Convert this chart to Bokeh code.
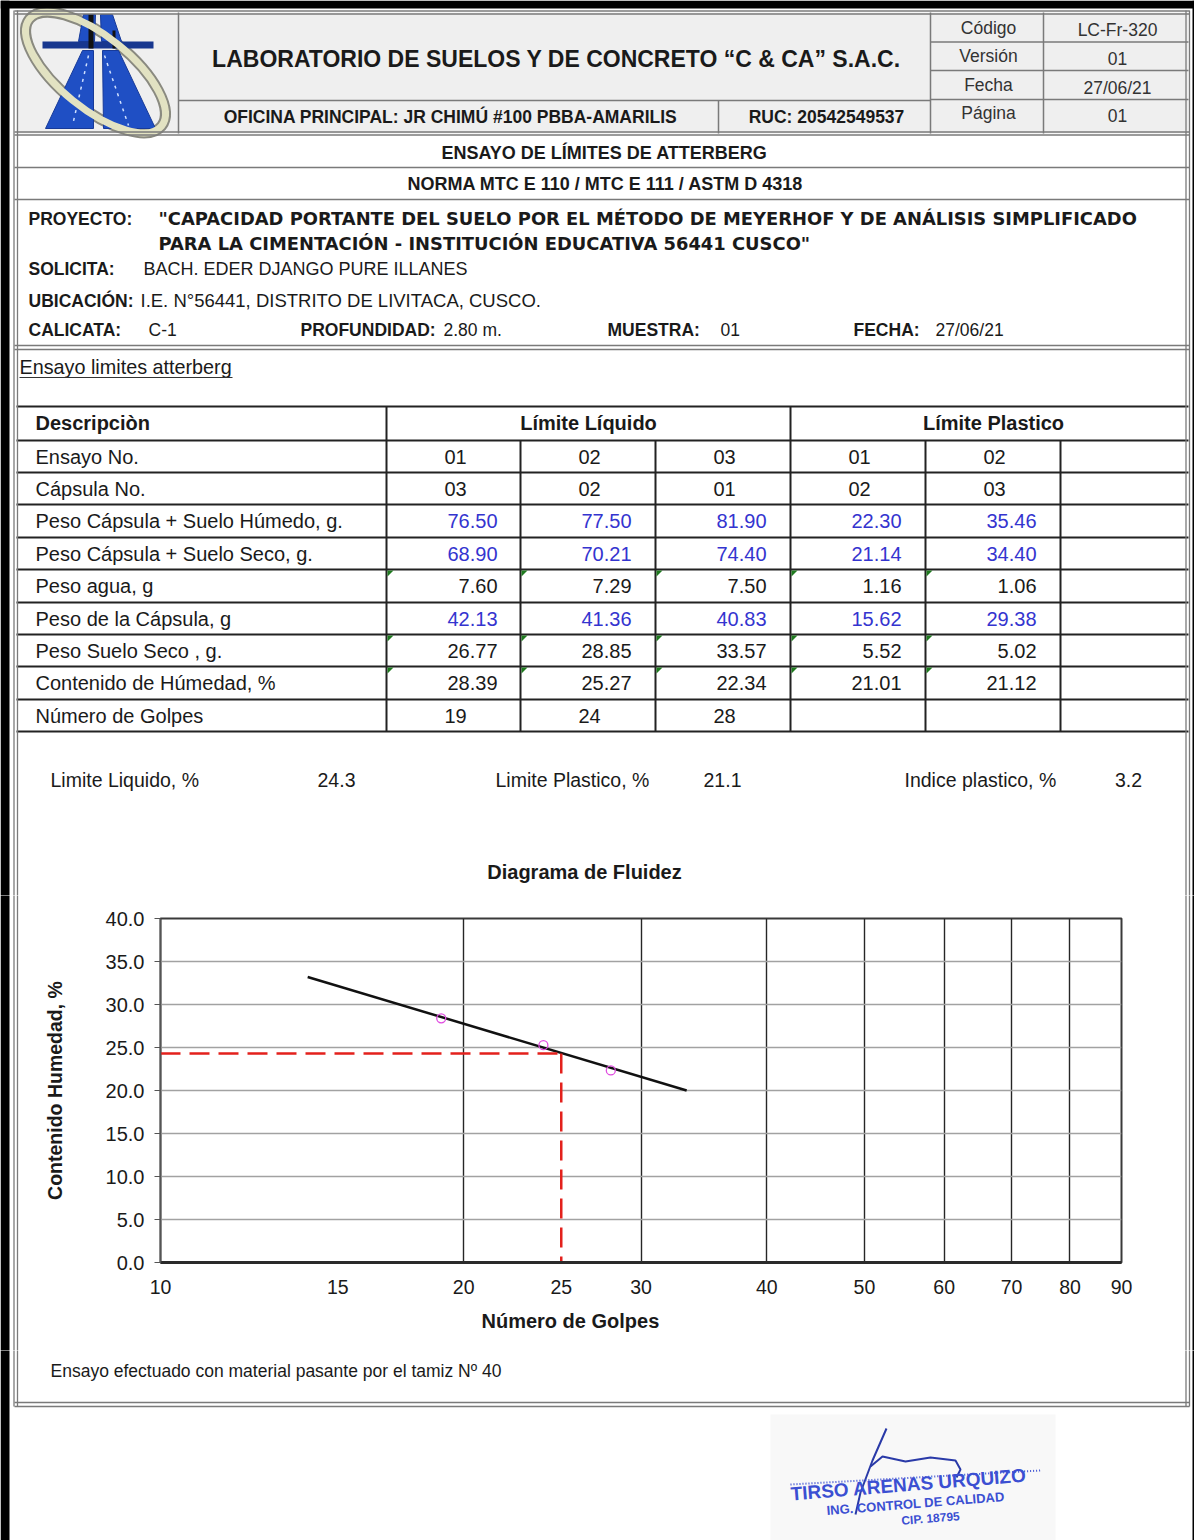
from bokeh.plotting import figure
from bokeh.layouts import column, row
from bokeh.models import Range1d, FixedTicker, PrintfTickFormatter, Title
from bokeh.core.properties import value
from bokeh.embed import file_html
from bokeh.resources import INLINE

# ---------------------------------------------------------------- data
row_labels = [
    "Ensayo No.",
    "Cápsula No.",
    "Peso Cápsula + Suelo Húmedo, g.",
    "Peso Cápsula + Suelo Seco, g.",
    "Peso agua, g",
    "Peso de la Cápsula, g",
    "Peso Suelo Seco , g.",
    "Contenido de Húmedad, %",
    "Número de Golpes",
]
ensayo_no = ["01", "02", "03", "01", "02"]
capsula_no = ["03", "02", "01", "02", "03"]
peso_capsula_humedo = [76.50, 77.50, 81.90, 22.30, 35.46]
peso_capsula_seco = [68.90, 70.21, 74.40, 21.14, 34.40]
peso_agua = [7.60, 7.29, 7.50, 1.16, 1.06]
peso_capsula = [42.13, 41.36, 40.83, 15.62, 29.38]
peso_suelo_seco = [26.77, 28.85, 33.57, 5.52, 5.02]
contenido_humedad = [28.39, 25.27, 22.34, 21.01, 21.12]
numero_golpes = [19, 24, 28]

limite_liquido = 24.3
limite_plastico = 21.1
indice_plastico = 3.2
golpes_estandar = 25

# straight fit line drawn on the flow diagram (end points)
recta_golpes = [14.0, 33.3]
recta_humedad = [33.2, 20.0]

x_ticks = [10, 15, 20, 25, 30, 40, 50, 60, 70, 80, 90]
x_grid = [20, 30, 40, 50, 60, 70, 80]
y_ticks = [0, 5, 10, 15, 20, 25, 30, 35, 40]

# ---------------------------------------------------------------- page geometry
PAGE_W, PAGE_H = 1194, 1540
TOP_H, CHART_H = 895, 455
BOT_H = PAGE_H - TOP_H - CHART_H
SIDE_W = 20
FONT = "Liberation Sans"
INK = "#1a1a1a"
BLUE = "#3434cf"
RULE = "#7a7a7a"
GRIDC = "#262626"


def canvas(x0, y0, w, h):
    p = figure(width=w, height=h, x_range=Range1d(x0, x0 + w), y_range=Range1d(y0 + h, y0),
               x_axis_location=None, y_axis_location=None, toolbar_location=None,
               output_backend="svg", min_border=0, outline_line_color=None,
               background_fill_color="white", border_fill_color="white",
               frame_align=False)
    p.grid.visible = False
    return p


def txt(p, x, y, s, size, bold=False, color=INK, align="left", font=FONT, angle=0.0):
    p.text(x=[x], y=[y], text=[s], text_font=value(font), text_font_size=f"{size}px",
           text_font_style="bold" if bold else "normal", text_color=color,
           text_align=align, text_baseline="middle", angle=angle)


def hline(p, x0, x1, y, color=RULE, width=1.5):
    p.segment(x0=[x0], y0=[y], x1=[x1], y1=[y], line_color=color, line_width=width)


def vline(p, x, y0, y1, color=RULE, width=1.5):
    p.segment(x0=[x], y0=[y0], x1=[x], y1=[y1], line_color=color, line_width=width)


def page_frame(p):
    # dark scan edges and the double side rules of the form
    p.quad(left=[0], right=[9], top=[0], bottom=[PAGE_H], fill_color="black", line_color=None)
    p.quad(left=[0], right=[PAGE_W], top=[0], bottom=[8], fill_color="black", line_color=None)
    p.quad(left=[1192], right=[PAGE_W], top=[0], bottom=[PAGE_H], fill_color="black", line_color=None)
    for x in (13.5, 17.0, 1185.5, 1189.0):
        vline(p, x, 10, 1406, width=1.3)


# ---------------------------------------------------------------- top sheet
top = canvas(0, 0, PAGE_W, TOP_H)

# header background and logo
top.quad(left=[16], right=[1188], top=[12], bottom=[133], fill_color="#efefef", line_color=None)
top.ellipse(x=[95], y=[72], width=[170], height=[72], angle=[-0.68], fill_color=None,
            line_color="#8a8a80", line_width=11)
road = dict(fill_color="#1f4fc4", line_color="#173a99", line_width=1)
top.patch(x=[82, 93, 93, 45], y=[50, 50, 128, 128], **road)
top.patch(x=[102, 118, 155, 103], y=[50, 50, 128, 128], **road)
top.patch(x=[83, 95, 94, 78], y=[14, 14, 41, 41], **road)
top.patch(x=[100, 112, 121, 101], y=[14, 14, 41, 41], **road)
top.quad(left=[42], right=[153], top=[41], bottom=[48], fill_color="#17378f", line_color=None)
top.quad(left=[88], right=[93], top=[14], bottom=[48], fill_color="#111", line_color=None)
top.quad(left=[112], right=[115], top=[30], bottom=[48], fill_color="#111", line_color=None)
top.segment(x0=[88, 104], y0=[55, 55], x1=[72, 128], y1=[125, 125], line_color="#cfe0ff",
            line_width=1.5, line_dash="3 5")
top.ellipse(x=[95], y=[72], width=[170], height=[72], angle=[-0.68], fill_color=None,
            line_color="#e2e2c2", line_width=7)

# header grid
for x, y0, y1 in [(178, 12, 133), (930, 12, 133), (1043, 12, 133), (718, 100, 133)]:
    vline(top, x, y0, y1)
for x0, x1, y in [(14, 1189, 10.5), (14, 1189, 13.5), (178, 930, 100), (930, 1188, 41.5),
                  (930, 1188, 70), (930, 1188, 99), (14, 1189, 131.5), (14, 1189, 134.5),
                  (14, 1189, 167), (14, 1189, 199), (14, 1189, 345), (14, 1189, 349)]:
    hline(top, x0, x1, y)

txt(top, 556, 58, "LABORATORIO DE SUELOS Y DE CONCRETO “C & CA” S.A.C.", 23, bold=True, align="center")
txt(top, 450, 116, "OFICINA PRINCIPAL: JR CHIMÚ #100 PBBA-AMARILIS", 17.5, bold=True, align="center")
txt(top, 826, 116, "RUC: 20542549537", 17.5, bold=True, align="center")
for s, y in [("Código", 27), ("Versión", 55), ("Fecha", 84), ("Página", 112)]:
    txt(top, 988, y, s, 17.5, color="#333", align="center")
for s, y in [("LC-Fr-320", 29), ("01", 58), ("27/06/21", 87), ("01", 115)]:
    txt(top, 1117, y, s, 17.5, color="#333", align="center")

txt(top, 604, 152, "ENSAYO DE LÍMITES DE ATTERBERG", 18, bold=True, align="center")
txt(top, 605, 183, "NORMA MTC E 110 / MTC E 111 / ASTM D 4318", 18, bold=True, align="center")

# project block
txt(top, 28, 218, "PROYECTO:", 17.5, bold=True)
txt(top, 158, 218, "\"CAPACIDAD PORTANTE DEL SUELO POR EL MÉTODO DE MEYERHOF Y DE ANÁLISIS SIMPLIFICADO",
    17.9, bold=True, font="DejaVu Sans")
txt(top, 158, 243, "PARA LA CIMENTACIÓN - INSTITUCIÓN EDUCATIVA 56441 CUSCO\"", 17.9, bold=True,
    font="DejaVu Sans")
txt(top, 28, 268, "SOLICITA:", 17.5, bold=True)
txt(top, 143, 268, "BACH. EDER DJANGO PURE ILLANES", 18)
txt(top, 28, 300, "UBICACIÓN:", 17.5, bold=True)
txt(top, 140, 300, "I.E. N°56441, DISTRITO DE LIVITACA, CUSCO.", 18.5)
txt(top, 28, 329, "CALICATA:", 17.5, bold=True)
txt(top, 148, 329, "C-1", 17.5)
txt(top, 300, 329, "PROFUNDIDAD:", 17.5, bold=True)
txt(top, 443, 329, "2.80 m.", 17.5)
txt(top, 607, 329, "MUESTRA:", 17.5, bold=True)
txt(top, 720, 329, "01", 17.5)
txt(top, 853, 329, "FECHA:", 17.5, bold=True)
txt(top, 935, 329, "27/06/21", 17.5)

txt(top, 19, 366, "Ensayo limites atterberg", 19.8)
hline(top, 19, 232, 377, color="#333", width=1)

# results table
col_edges = [386, 520, 655, 790, 925, 1060]
row_edges = [406, 440, 472, 504, 537, 569, 602, 634, 666, 699, 731]
TAB = "#222"
for y in row_edges:
    hline(top, 16, 1188, y, color=TAB, width=2)
for x in col_edges:
    y_start = 406 if x in (386, 790) else 440
    vline(top, x, y_start, 731, color=TAB, width=2)

txt(top, 35, 422, "Descripciòn", 20, bold=True)
txt(top, 588, 422, "Límite Líquido", 20, bold=True, align="center")
txt(top, 993, 422, "Límite Plastico", 20, bold=True, align="center")

row_values = [
    (ensayo_no, INK, "id"),
    (capsula_no, INK, "id"),
    (peso_capsula_humedo, BLUE, "num"),
    (peso_capsula_seco, BLUE, "num"),
    (peso_agua, INK, "num"),
    (peso_capsula, BLUE, "num"),
    (peso_suelo_seco, INK, "num"),
    (contenido_humedad, INK, "num"),
    ([str(g) for g in numero_golpes], INK, "id"),
]
for r, (label, (vals, color, kind)) in enumerate(zip(row_labels, row_values)):
    yc = (row_edges[r + 1] + row_edges[r + 2]) / 2
    txt(top, 35, yc, label, 20)
    for c, v in enumerate(vals):
        left = col_edges[c]
        if kind == "id":
            txt(top, left + 58, yc, v, 20, color=color)
        else:
            txt(top, left + 111, yc, f"{v:.2f}", 20, color=color, align="right")
    if kind == "num" and color == INK:
        # formula markers in the corner of computed cells
        for left in col_edges[:5]:
            ytop = row_edges[r + 1]
            top.patch(x=[left + 1, left + 7, left + 1], y=[ytop + 1, ytop + 1, ytop + 7],
                      fill_color="#1f7a1f", line_color=None)

txt(top, 50, 779, "Limite Liquido, %", 19.5)
txt(top, 336, 779, f"{limite_liquido:.1f}", 19.5, align="center")
txt(top, 495, 779, "Limite Plastico, %", 19.5)
txt(top, 722, 779, f"{limite_plastico:.1f}", 19.5, align="center")
txt(top, 904, 779, "Indice plastico, %", 19.5)
txt(top, 1128, 779, f"{indice_plastico:.1f}", 19.5, align="center")

txt(top, 584, 871, "Diagrama de Fluidez", 20, bold=True, align="center")
page_frame(top)

# ---------------------------------------------------------------- flow diagram
chart = figure(width=PAGE_W - 2 * SIDE_W, height=CHART_H, x_axis_type="log",
               x_range=Range1d(10, 90), y_range=Range1d(0, 40),
               toolbar_location=None, output_backend="svg", frame_align=False,
               min_border_left=140, min_border_right=53, min_border_top=23, min_border_bottom=88,
               outline_line_color="#3a3a3a", outline_line_width=2,
               background_fill_color="white", border_fill_color="white")

xa = chart.xaxis[0]
xa.ticker = FixedTicker(ticks=x_ticks)
xa.formatter = PrintfTickFormatter(format="%d")
xa.major_label_text_font = FONT
xa.major_label_text_font_size = "19.5px"
xa.major_label_text_color = INK
xa.major_label_standoff = 17
xa.major_tick_out = 0
xa.major_tick_in = 0
xa.minor_tick_out = 0
xa.axis_line_color = "#2a2a2a"
xa.axis_line_width = 3

chart.add_layout(Title(text="Número de Golpes", align="left", offset=321, standoff=22,
                       text_font=FONT, text_font_size="20px", text_font_style="bold",
                       text_color=INK), "below")

ya = chart.yaxis[0]
ya.ticker = FixedTicker(ticks=y_ticks)
ya.formatter = PrintfTickFormatter(format="%.1f")
ya.major_label_text_font = FONT
ya.major_label_text_font_size = "20px"
ya.major_label_text_color = INK
ya.major_label_standoff = 10
ya.major_tick_out = 6
ya.major_tick_in = 0
ya.minor_tick_out = 0
ya.axis_line_color = "#555"
ya.axis_line_width = 1.5
ya.major_tick_line_color = "#555"
ya.axis_label = "Contenido Humedad, %"
ya.axis_label_text_font = FONT
ya.axis_label_text_font_size = "19.5px"
ya.axis_label_text_font_style = "bold"
ya.axis_label_text_color = INK
ya.axis_label_standoff = 37

chart.xgrid.ticker = FixedTicker(ticks=x_grid)
chart.xgrid.grid_line_color = GRIDC
chart.xgrid.grid_line_width = 1.4
chart.ygrid.grid_line_color = "#a2a2a2"
chart.ygrid.grid_line_width = 1.6

chart.line(x=recta_golpes, y=recta_humedad, line_color="#111", line_width=2.5)
chart.line(x=[x_ticks[0], golpes_estandar], y=[limite_liquido, limite_liquido],
           line_color="#e3211c", line_width=2.5, line_dash="20 9")
chart.line(x=[golpes_estandar, golpes_estandar], y=[limite_liquido, y_ticks[0]],
           line_color="#e3211c", line_width=2.5, line_dash="20 9")
chart.scatter(x=numero_golpes, y=contenido_humedad[:3], marker="circle", size=9,
              fill_color=None, line_color="#e04ce0", line_width=1.3)

left_strip = canvas(0, TOP_H, SIDE_W, CHART_H)
page_frame(left_strip)
right_strip = canvas(PAGE_W - SIDE_W, TOP_H, SIDE_W, CHART_H)
page_frame(right_strip)

# ---------------------------------------------------------------- bottom sheet
bottom = canvas(0, TOP_H + CHART_H, PAGE_W, BOT_H)
txt(bottom, 50, 1370, "Ensayo efectuado con material pasante por el tamiz Nº 40", 17.5)
hline(bottom, 14, 1189, 1402)
hline(bottom, 14, 1189, 1406)
page_frame(bottom)

# signature stamp
bottom.quad(left=[770], right=[1055], top=[1414], bottom=[1540], fill_color="#f8f8f8", line_color=None)
STAMP = "#3b4fd2"
bottom.line(x=[886, 872, 860, 855], y=[1428, 1460, 1492, 1514], line_color="#2a3aa8", line_width=2)
bottom.line(x=[870, 882, 905, 930, 955, 960, 956],
            y=[1466, 1456, 1461, 1457, 1460, 1469, 1477], line_color="#2a3aa8", line_width=2)
bottom.segment(x0=[790], y0=[1484], x1=[1040], y1=[1470], line_color=STAMP, line_width=2,
               line_dash="1 2")
txt(bottom, 908, 1484, "TIRSO ARENAS URQUIZO", 19, bold=True, color=STAMP, align="center", angle=0.08)
txt(bottom, 915, 1503, "ING. CONTROL DE CALIDAD", 13, bold=True, color=STAMP, align="center", angle=0.08)
txt(bottom, 930, 1518, "CIP. 18795", 12, bold=True, color=STAMP, align="center", angle=0.08)

layout = column(top, row(left_strip, chart, right_strip), bottom)
open("out.html", "w").write(file_html(layout, INLINE))
